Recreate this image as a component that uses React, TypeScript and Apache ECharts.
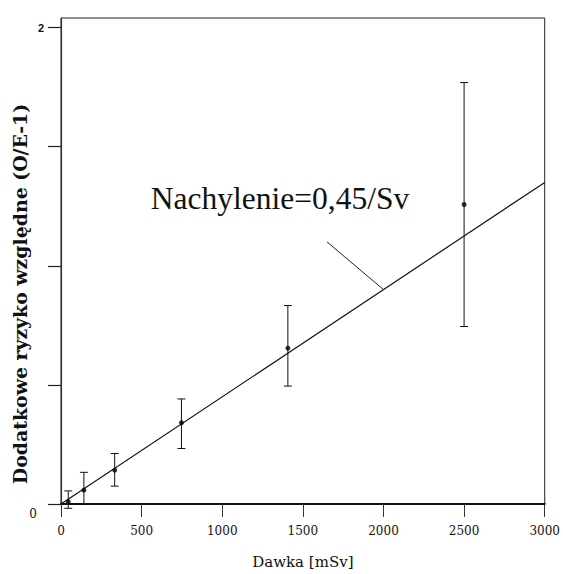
import React, { useEffect, useRef } from "react";
import * as echarts from "echarts";

// Dose groups [mSv] with excess relative risk and its confidence limits
const doses = [45, 142, 333, 747, 1407, 2500];
const excessRisk = [0.01, 0.058, 0.142, 0.341, 0.654, 1.257];
const lowerLimit = [-0.018, 0.0, 0.075, 0.233, 0.495, 0.745];
const upperLimit = [0.055, 0.133, 0.212, 0.441, 0.833, 1.769];

// Fitted linear dose-response: slope per Sv
const slopePerSv = 0.45;
const fitRange = [0, 3000];
const leaderFrom = [1650, 1.1];
const leaderTo = [2000, 0.9];

const xTicks = [0, 500, 1000, 1500, 2000, 2500, 3000];
const yTicks = [0, 0.5, 1, 1.5, 2];
const yLabels = [0, 2];

export default function App() {
  const ref = useRef<HTMLDivElement>(null);

  useEffect(() => {
    if (!ref.current) return;
    document.body.style.margin = "0";
    const chart = echarts.init(ref.current, undefined, { renderer: "svg" });

    const points = doses.map((d, i) => [d, excessRisk[i]]);
    const bars = doses.map((d, i) => [d, lowerLimit[i], upperLimit[i]]);
    const fit = fitRange.map((d) => [d, (slopePerSv * d) / 1000]);

    chart.setOption({
      animation: false,
      backgroundColor: "#fff",
      grid: {
        left: 61,
        right: 16,
        top: 18,
        bottom: 66,
        show: true,
        borderColor: "#222",
        borderWidth: 1,
      },
      xAxis: {
        type: "value",
        min: 0,
        max: 3000,
        interval: 500,
        name: "Dawka [mSv]",
        nameLocation: "middle",
        nameGap: 50,
        nameTextStyle: {
          fontFamily: "DejaVu Serif",
          fontSize: 15,
          color: "#111",
        },
        splitLine: { show: false },
        axisLine: { show: true, lineStyle: { color: "#111", width: 2 } },
        axisTick: {
          show: true,
          inside: false,
          length: 13,
          customValues: xTicks,
          lineStyle: { color: "#333", width: 1 },
        },
        axisLabel: {
          customValues: xTicks,
          margin: 21,
          formatter: (v: number) => String(v),
          fontFamily: "DejaVu Serif",
          fontSize: 12,
          color: "#111",
        },
      },
      yAxis: {
        type: "value",
        min: 0,
        max: 2.04,
        splitLine: { show: false },
        axisLine: { show: true, lineStyle: { color: "#333", width: 1.2 } },
        axisTick: {
          show: true,
          inside: false,
          length: 13,
          customValues: yTicks,
          lineStyle: { color: "#222", width: 1.2 },
        },
        axisLabel: {
          customValues: yLabels,
          margin: 17,
          formatter: (v: number) => (v === 0 ? "{b|0}" : "{a|" + v + "}"),
          rich: {
            a: {
              fontFamily: "Liberation Sans",
              fontWeight: "bold",
              fontSize: 11,
              color: "#111",
            },
            b: {
              fontFamily: "DejaVu Serif",
              fontSize: 12,
              color: "#111",
              padding: [20, 7, 0, 0],
            },
          },
        },
      },
      graphic: [
        {
          type: "text",
          x: 21,
          y: 294,
          rotation: Math.PI / 2,
          scaleX: 1.05,
          style: {
            text: "Dodatkowe ryzyko względne (O/E-1)",
            font: 'bold 18px "DejaVu Serif"',
            fill: "#111",
            align: "center",
            verticalAlign: "middle",
          },
        },
        {
          type: "text",
          x: 280,
          y: 198,
          style: {
            text: "Nachylenie=0,45/Sv",
            font: '31.5px "Liberation Serif"',
            fill: "#111",
            align: "center",
            verticalAlign: "middle",
          },
        },
      ],
      series: [
        {
          type: "line",
          data: fit,
          symbol: "none",
          lineStyle: { color: "#111", width: 1.2 },
          silent: true,
          z: 2,
        },
        {
          type: "line",
          data: [leaderFrom, leaderTo],
          symbol: "none",
          lineStyle: { color: "#222", width: 1 },
          silent: true,
          z: 2,
        },
        {
          type: "custom",
          data: bars,
          clip: false,
          z: 3,
          renderItem: (params: any, api: any) => {
            const x = api.value(0);
            const lo = api.coord([x, api.value(1)]);
            const hi = api.coord([x, api.value(2)]);
            const cap = 4;
            const style = { stroke: "#111", lineWidth: 1 };
            return {
              type: "group",
              children: [
                { type: "line", shape: { x1: lo[0], y1: lo[1], x2: hi[0], y2: hi[1] }, style },
                { type: "line", shape: { x1: lo[0] - cap, y1: lo[1], x2: lo[0] + cap, y2: lo[1] }, style },
                { type: "line", shape: { x1: hi[0] - cap, y1: hi[1], x2: hi[0] + cap, y2: hi[1] }, style },
              ],
            };
          },
        },
        {
          type: "scatter",
          data: points,
          symbol: "circle",
          symbolSize: 5,
          itemStyle: { color: "#000" },
          z: 4,
        },
      ],
    });

    return () => chart.dispose();
  }, []);

  return <div ref={ref} style={{ width: 563, height: 574 }} />;
}
